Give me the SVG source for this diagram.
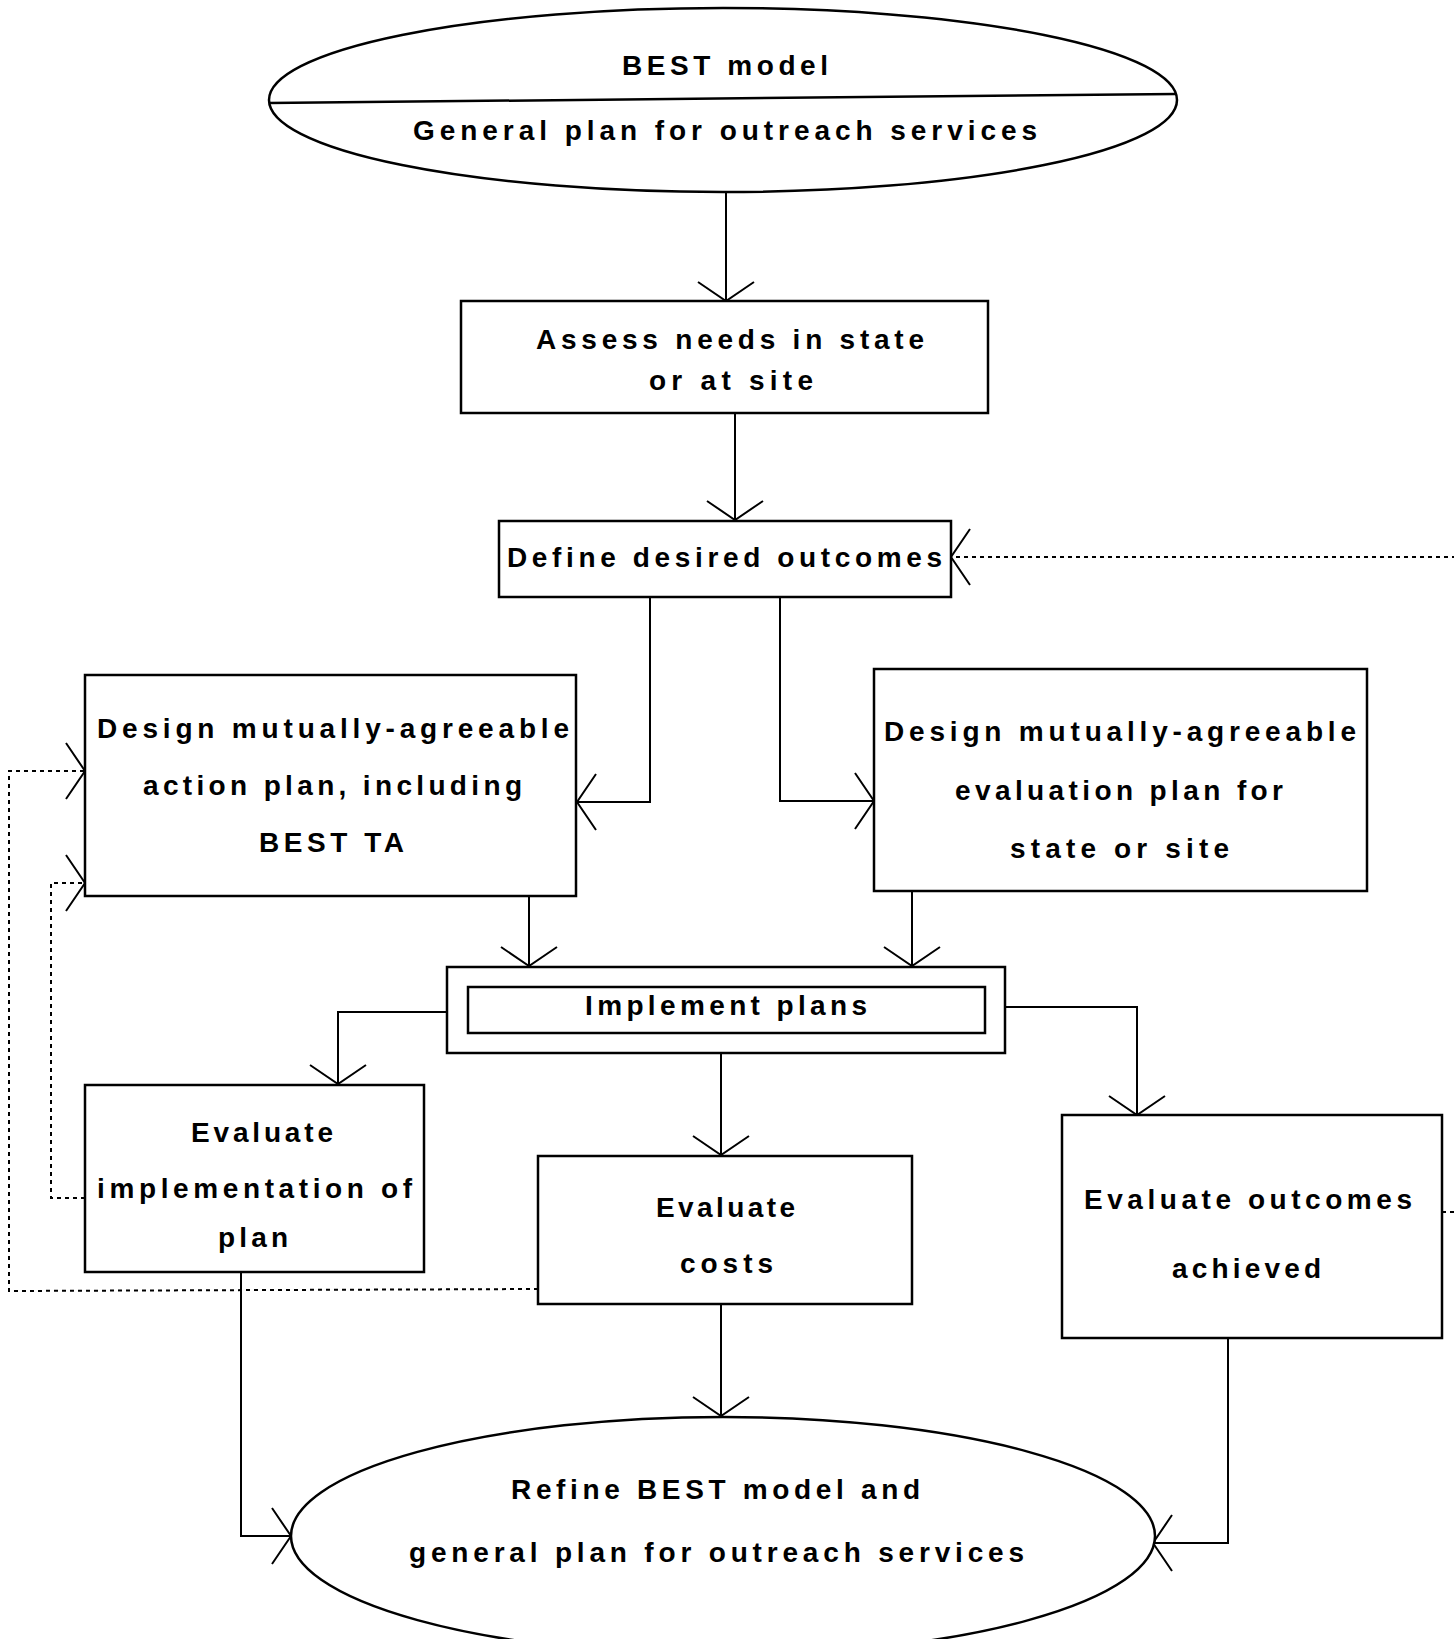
<svg xmlns="http://www.w3.org/2000/svg" width="1454" height="1639" viewBox="0 0 1454 1639">
<style>
  .node { fill: #fff; stroke: #000; stroke-width: 2.5; }
  .t { font-family: "Liberation Sans", Arial, sans-serif; font-weight: bold; font-size: 28px; fill: #000; }
  .c { fill: none; stroke: #000; stroke-width: 2; }
  .d { fill: none; stroke: #000; stroke-width: 2; stroke-dasharray: 4 4; }
</style>
<defs>
  <marker id="arr" markerUnits="userSpaceOnUse" viewBox="-24 -32 30 64" markerWidth="30" markerHeight="64" refX="0" refY="0" orient="auto" overflow="visible">
    <path d="M-19,-28 L0,0 L-19,28" fill="none" stroke="#000" stroke-width="2"/>
  </marker>
</defs>
<rect width="1454" height="1639" fill="#fff"/>

<g id="connectors">
  <path class="c" d="M726,192 L726,301" marker-end="url(#arr)"/>
  <path class="c" d="M735,413 L735,520" marker-end="url(#arr)"/>
  <path class="c" d="M650,598 L650,802 L577,802" marker-end="url(#arr)"/>
  <path class="c" d="M780,598 L780,801 L874,801" marker-end="url(#arr)"/>
  <path class="c" d="M529,896 L529,966" marker-end="url(#arr)"/>
  <path class="c" d="M912,891 L912,966" marker-end="url(#arr)"/>
  <path class="c" d="M447,1012 L338,1012 L338,1084" marker-end="url(#arr)"/>
  <path class="c" d="M721,1034 L721,1155" marker-end="url(#arr)"/>
  <path class="c" d="M1005,1007 L1137,1007 L1137,1115" marker-end="url(#arr)"/>
  <path class="c" d="M241,1272 L241,1536 L291,1536" marker-end="url(#arr)"/>
  <path class="c" d="M721,1305 L721,1416" marker-end="url(#arr)"/>
  <path class="c" d="M1228,1338 L1228,1543 L1153,1543" marker-end="url(#arr)"/>
  <path class="d" d="M538,1289 L9,1291 L9,771 L85,771" marker-end="url(#arr)"/>
  <path class="d" d="M85,1198 L51,1198 L51,883 L85,883" marker-end="url(#arr)"/>
  <path class="d" d="M1456,557 L951,557" marker-end="url(#arr)"/>
  <path class="d" d="M1442,1212 L1456,1212"/>
</g>

<g id="n-best-model">
  <ellipse class="node" cx="723" cy="100" rx="454" ry="92"/>
  <line x1="269" y1="103" x2="1176" y2="94" stroke="#000" stroke-width="2.5"/>
  <text class="t" x="622" y="75" textLength="206" lengthAdjust="spacing">BEST model</text>
  <text class="t" x="413" y="140" textLength="624" lengthAdjust="spacing">General plan for outreach services</text>
</g>

<g id="n-assess">
  <rect class="node" x="461" y="301" width="527" height="112"/>
  <text class="t" x="536" y="349" textLength="388" lengthAdjust="spacing">Assess needs in state</text>
  <text class="t" x="649" y="390" textLength="164" lengthAdjust="spacing">or at site</text>
</g>

<g id="n-define">
  <rect class="node" x="499" y="521" width="452" height="76"/>
  <text class="t" x="507" y="567" textLength="435" lengthAdjust="spacing">Define desired outcomes</text>
</g>

<g id="n-action-plan">
  <rect class="node" x="85" y="675" width="491" height="221"/>
  <text class="t" x="97" y="738" textLength="472" lengthAdjust="spacing">Design mutually-agreeable</text>
  <text class="t" x="143" y="795" textLength="379" lengthAdjust="spacing">action plan, including</text>
  <text class="t" x="259" y="852" textLength="145" lengthAdjust="spacing">BEST TA</text>
</g>

<g id="n-eval-plan">
  <rect class="node" x="874" y="669" width="493" height="222"/>
  <text class="t" x="884" y="741" textLength="472" lengthAdjust="spacing">Design mutually-agreeable</text>
  <text class="t" x="955" y="800" textLength="328" lengthAdjust="spacing">evaluation plan for</text>
  <text class="t" x="1010" y="858" textLength="219" lengthAdjust="spacing">state or site</text>
</g>

<g id="n-implement">
  <rect class="node" x="447" y="967" width="558" height="86"/>
  <rect class="node" x="468" y="987" width="517" height="46"/>
  <text class="t" x="585" y="1015" textLength="282" lengthAdjust="spacing">Implement plans</text>
</g>

<g id="n-eval-impl">
  <rect class="node" x="85" y="1085" width="339" height="187"/>
  <text class="t" x="191" y="1142" textLength="142" lengthAdjust="spacing">Evaluate</text>
  <text class="t" x="97" y="1198" textLength="315" lengthAdjust="spacing">implementation of</text>
  <text class="t" x="218" y="1247" textLength="70" lengthAdjust="spacing">plan</text>
</g>

<g id="n-eval-costs">
  <rect class="node" x="538" y="1156" width="374" height="148"/>
  <text class="t" x="656" y="1217" textLength="139" lengthAdjust="spacing">Evaluate</text>
  <text class="t" x="680" y="1273" textLength="93" lengthAdjust="spacing">costs</text>
</g>

<g id="n-eval-outcomes">
  <rect class="node" x="1062" y="1115" width="380" height="223"/>
  <text class="t" x="1084" y="1209" textLength="328" lengthAdjust="spacing">Evaluate outcomes</text>
  <text class="t" x="1172" y="1278" textLength="149" lengthAdjust="spacing">achieved</text>
</g>

<g id="n-refine">
  <ellipse class="node" cx="723" cy="1536" rx="432" ry="119"/>
  <text class="t" x="511" y="1499" textLength="409" lengthAdjust="spacing">Refine BEST model and</text>
  <text class="t" x="409" y="1562" textLength="615" lengthAdjust="spacing">general plan for outreach services</text>
</g>
</svg>
